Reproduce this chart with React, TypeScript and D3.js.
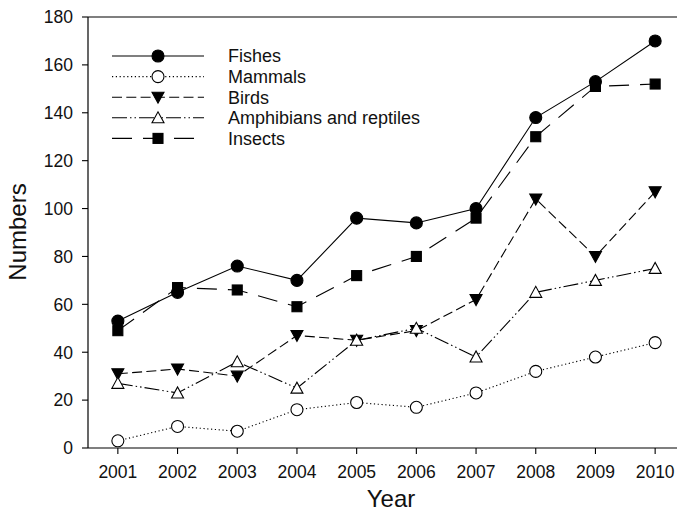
import * as d3 from "d3"

const years = [2001, 2002, 2003, 2004, 2005, 2006, 2007, 2008, 2009, 2010]
const fishes = [53, 65, 76, 70, 96, 94, 100, 138, 153, 170]
const mammals = [3, 9, 7, 16, 19, 17, 23, 32, 38, 44]
const birds = [31, 33, 30, 47, 45, 49, 62, 104, 80, 107]
const amphibians = [27, 23, 36, 25, 45, 50, 38, 65, 70, 75]
const insects = [49, 67, 66, 59, 72, 80, 96, 130, 151, 152]
const yTicks = [0, 20, 40, 60, 80, 100, 120, 140, 160, 180]

type Marker = "circle" | "square" | "triDown" | "triUp"

const series = [
  { name: "Fishes", values: fishes, dash: "none", marker: "circle" as Marker, filled: true },
  { name: "Mammals", values: mammals, dash: "1.2,2.6", marker: "circle" as Marker, filled: false },
  { name: "Birds", values: birds, dash: "10,4.3", marker: "triDown" as Marker, filled: true },
  { name: "Amphibians and reptiles", values: amphibians, dash: "15,3,1.5,3,1.5,3", marker: "triUp" as Marker, filled: false },
  { name: "Insects", values: insects, dash: "20,11", marker: "square" as Marker, filled: true },
]

const W = 677
const H = 513
const FONT = "'Liberation Sans', Arial, Helvetica, sans-serif"

const x = d3.scaleLinear().domain([2000.5, 2010.5]).range([88, 685])
const y = d3.scaleLinear().domain([0, 180]).range([448, 17])

function Symbol({ kind, filled, cx, cy }: { kind: Marker; filled: boolean; cx: number; cy: number }) {
  const fill = filled ? "#000" : "#fff"
  const common = { fill, stroke: "#000", strokeWidth: 1.1 }
  if (kind === "circle") return <circle cx={cx} cy={cy} r={6} {...common} />
  if (kind === "square") return <rect x={cx - 5} y={cy - 5} width={10} height={10} {...common} />
  if (kind === "triDown")
    return <path d={`M${cx - 6},${cy - 5}L${cx + 6},${cy - 5}L${cx},${cy + 6}Z`} {...common} />
  return <path d={`M${cx - 6},${cy + 5}L${cx + 6},${cy + 5}L${cx},${cy - 6}Z`} {...common} />
}

export default function App() {
  const line = d3
    .line<number>()
    .x((_, i) => x(years[i]))
    .y((d) => y(d))

  return (
    <div style={{ position: "absolute", left: 0, top: 0 }}>
      <svg width={W} height={H} style={{ display: "block", background: "#fff" }} fontFamily={FONT}>
        {/* frame: left, top, bottom */}
        <line x1={88} x2={W} y1={17} y2={17} stroke="#000" strokeWidth={1.2} />
        <line x1={88} x2={W} y1={448} y2={448} stroke="#000" strokeWidth={1.2} />
        <line x1={88} x2={88} y1={17} y2={448} stroke="#000" strokeWidth={1.2} />

        {yTicks.map((t) => (
          <g key={t}>
            <line x1={82} x2={88} y1={y(t)} y2={y(t)} stroke="#000" strokeWidth={1.1} />
            <text x={73} y={y(t)} dy="0.36em" textAnchor="end" fontSize={17.5} fill="#111">
              {t}
            </text>
          </g>
        ))}
        {years.map((yr) => (
          <g key={yr}>
            <line x1={x(yr)} x2={x(yr)} y1={448} y2={454} stroke="#000" strokeWidth={1.1} />
            <text x={x(yr)} y={478} textAnchor="middle" fontSize={17.5} fill="#111">
              {yr}
            </text>
          </g>
        ))}

        <text x={391} y={507} textAnchor="middle" fontSize={24} fill="#111">
          Year
        </text>
        <text
          transform={`translate(26,232) rotate(-90)`}
          textAnchor="middle"
          fontSize={24}
          fill="#111"
        >
          Numbers
        </text>

        {series.map((s) => (
          <path
            key={s.name}
            d={line(s.values) || ""}
            fill="none"
            stroke="#000"
            strokeWidth={1.1}
            strokeDasharray={s.dash}
          />
        ))}
        {series.map((s) =>
          s.values.map((v, i) => (
            <Symbol key={s.name + i} kind={s.marker} filled={s.filled} cx={x(years[i])} cy={y(v)} />
          ))
        )}

        {/* legend */}
        {series.map((s, i) => {
          const ly = 56 + i * 20.6
          return (
            <g key={s.name}>
              <line
                x1={112}
                x2={204}
                y1={ly}
                y2={ly}
                stroke="#000"
                strokeWidth={1.1}
                strokeDasharray={s.dash}
              />
              <Symbol kind={s.marker} filled={s.filled} cx={158} cy={ly} />
              <text x={228} y={ly} dy="0.36em" fontSize={18} fill="#111">
                {s.name}
              </text>
            </g>
          )
        })}
      </svg>
    </div>
  )
}
